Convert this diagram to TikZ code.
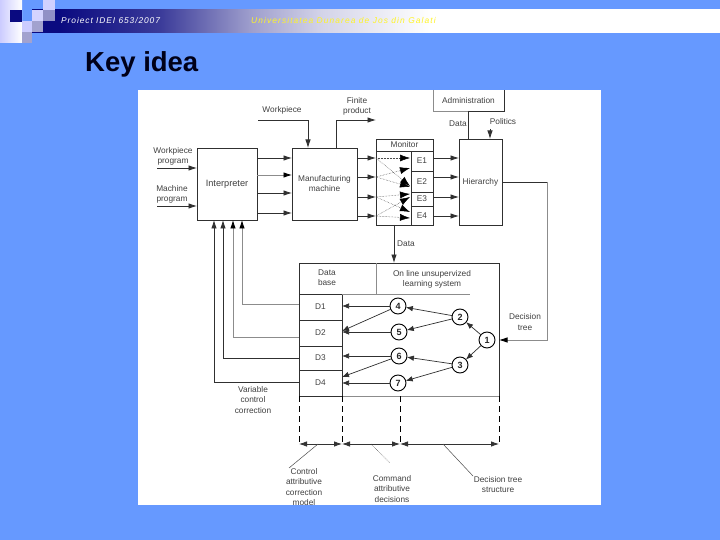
\documentclass[tikz,border=0pt]{standalone}
\usepackage{fontspec}
\setmainfont{Liberation Sans}
\newfontfamily\hdrfonta[LetterSpace=11,ItalicFont={Liberation Sans Italic}]{Liberation Sans}
\newfontfamily\hdrfontb[LetterSpace=13,ItalicFont={Liberation Sans Italic}]{Liberation Sans}
\usetikzlibrary{arrows.meta,calc}
\definecolor{slidebg}{HTML}{6699FF}
\definecolor{navy}{HTML}{0A0A80}
\definecolor{lc}{HTML}{303030}
\definecolor{lg}{HTML}{8C8C8C}
\pgfdeclarehorizontalshading{hbar}{100bp}{
  color(0bp)=(navy);
  color(27bp)=(navy);
  color(34.3bp)=(navy!80!white);
  color(40.8bp)=(navy!40!white);
  color(46bp)=(navy!18!white);
  color(54bp)=(white);
  color(100bp)=(white)}
\tikzset{
  box/.style={draw=lc,line width=0.8pt,fill=white,inner sep=0pt,outer sep=0pt,font=\fontsize{8.3}{10}\selectfont,align=center,text=black!75},
  lab/.style={inner sep=0pt,outer sep=0pt,font=\fontsize{8.3}{10.2}\selectfont,align=center,text=black!75},
  circ/.style={circle,draw=black,line width=0.9pt,fill=white,minimum size=16pt,inner sep=0pt,outer sep=0pt,font=\fontsize{9}{10}\bfseries\selectfont,text=black!85},
  arr/.style={draw=lc,line width=0.8pt,-{Latex[length=8.5pt,width=5.5pt]}},
  arrg/.style={draw=lg,line width=0.8pt,-{Latex[length=8.5pt,width=5.5pt,color=black]}},
  arrt/.style={draw=lc,line width=0.7pt,-{Latex[length=7pt,width=5.5pt]}},
  dotarr/.style={draw=black!70,line width=0.5pt,densely dotted,-{Latex[length=10pt,width=7pt,color=black]}},
  thinln/.style={draw=lc,line width=0.7pt},
  gline/.style={draw=lg,line width=0.8pt},
  dashln/.style={draw=black,line width=0.8pt,dash pattern=on 6pt off 4pt},
  dimln/.style={draw=black!80,line width=0.8pt,{Latex[length=8pt,width=5.5pt]}-{Latex[length=8pt,width=5.5pt]}},
  leader/.style={draw=black!70,line width=0.5pt}
}
\begin{document}
\begin{tikzpicture}[x=1pt,y=-1pt]
\useasboundingbox (0,0) rectangle (720,540);
\fill[slidebg] (0,0) rectangle (720,540);
% header bar
\shade[shading=hbar,shading angle=0] (32,10) rectangle (720,33);
% corner squares
\shade[left color=blue!20!white,right color=white] (0,0) rectangle (22,43);
\fill[navy] (10,10) rectangle (22,22);
\fill[blue!20!white] (22,21) rectangle (32,32);
\fill[blue!17!white] (32,10) rectangle (43,21);
\fill[blue!18!white] (43,0) rectangle (55,10);
\fill[navy!45!white] (43,10) rectangle (55,21);
\fill[navy!38!white] (32,21) rectangle (43,32);
\fill[navy] (43,21) rectangle (55,33);
\fill[navy!38!white] (22,32) rectangle (32,43);
\node[anchor=west,inner sep=0pt,text=white,font=\hdrfonta\itshape\fontsize{8.4}{10}\selectfont] (hleft) at (61,21) {Proiect IDEI 653/2007};
\node[anchor=west,inner sep=0pt,text=yellow!85!white,font=\hdrfontb\itshape\fontsize{8.4}{10}\selectfont] (hright) at (251,21) {Universitatea Dunarea de Jos din Galati};
\node[anchor=west,inner sep=0pt,text=black!90!blue,font=\bfseries\fontsize{27.5}{30}\selectfont] (title) at (85,64.5) {Key idea};
% white panel
\fill[white] (138,90) rectangle (601,505);
% boxes
\node[box,minimum width=60pt,minimum height=72pt,font=\fontsize{9.2}{11}\selectfont] (interp) at (227,184) {Interpreter};
\node[box,minimum width=65pt,minimum height=72pt] (manuf) at (324.5,184) {Manufacturing\\machine};
\node[box,minimum width=57pt,minimum height=86pt] (monitor) at (404.5,182) {};
\node[box,minimum width=57pt,minimum height=12pt] (monhead) at (404.5,145) {Monitor};
\node[box,minimum width=22pt,minimum height=20pt] (e1) at (422,161) {E1};
\node[box,minimum width=22pt,minimum height=21pt] (e2) at (422,181.5) {E2};
\node[box,minimum width=22pt,minimum height=14pt] (e3) at (422,199) {E3};
\node[box,minimum width=22pt,minimum height=19pt] (e4) at (422,215.5) {E4};
\node[box,minimum width=43pt,minimum height=86pt] (hier) at (480.5,182) {Hierarchy};
\node[box,draw=none,minimum width=71pt,minimum height=21pt] (admin) at (468.5,100.5) {Administration};
\node[box,minimum width=200pt,minimum height=133pt] (main) at (399,329.5) {};
\node[lab] (dblab) at (327,278) {Data\\base};
\node[lab] (olhead) at (432,279) {On line unsupervized\\learning system};
\node[box,minimum width=43pt,minimum height=26pt] (d1) at (320.5,307) {D1};
\node[box,minimum width=43pt,minimum height=26pt] (d2) at (320.5,333) {D2};
\node[box,minimum width=43pt,minimum height=24pt] (d3) at (320.5,358) {D3};
\node[box,minimum width=43pt,minimum height=26pt] (d4) at (320.5,383) {D4};
% administration frame (open at top)
\coordinate (adtl) at (433,90);
\coordinate (adtr) at (504,90);
\draw[gline] (adtl) -- (admin.south west) -- (admin.south);
\draw[thinln] (admin.south) -- (admin.south east) -- (adtr);
% header separators
\draw[gline] (d1.north east) -- (470,294);
\draw[gline] (376,263) -- (376,294);
\draw[gline] (d4.south east) -- (main.south east);
% circles
\node[circ] (c4) at (398,306) {4};
\node[circ] (c5) at (399,332) {5};
\node[circ] (c6) at (399,356) {6};
\node[circ] (c7) at (398,383) {7};
\node[circ] (c2) at (460,317) {2};
\node[circ] (c3) at (460,365) {3};
\node[circ] (c1) at (487,340) {1};
% tree arrows
\draw[arrt] (c1) -- (c2);
\draw[arrt] (c1) -- (c3);
\draw[arrt] (c2) -- (c4);
\draw[arrt] (c2) -- (c5);
\draw[arrt] (c3) -- (c6);
\draw[arrt] (c3) -- (c7);
\draw[arrt] (c4) -- (d1.east |- c4);
\draw[arrt] (c4) -- (342,331);
\draw[arrt] (c5) -- (d2.east |- c5);
\draw[arrt] (c6) -- (d3.east |- c6);
\draw[arrt] (c6) -- (342,377);
\draw[arrt] (c7) -- (d4.east |- c7);
% inputs
\coordinate (wpin) at (157,168);
\coordinate (mpin) at (157,206);
\draw[arr] (wpin) -- (interp.west |- wpin);
\draw[arr] (mpin) -- (interp.west |- mpin);
\node[lab] (wplab) at (173,156.5) {Workpiece\\program};
\node[lab] (mplab) at (172,194) {Machine\\program};
% interp -> manuf
\draw[arr] (interp.east |- 0,158) -- (manuf.west |- 0,158);
\draw[arrg] (interp.east |- 0,175) -- (manuf.west |- 0,175);
\draw[arr] (interp.east |- 0,193) -- (manuf.west |- 0,193);
\draw[arr] (interp.east |- 0,213) -- (manuf.west |- 0,213);
% workpiece / finite
\coordinate (wkstart) at (258,120);
\coordinate (fpend) at (376,120);
\draw[arr] (wkstart) -- (308,120) -- (manuf.north -| 308,0);
\draw[arr] (manuf.north -| 336,0) -- (336,120) -- (fpend);
\node[lab] (wklab) at (282,110) {Workpiece};
\node[lab] (fplab) at (357,106) {Finite\\product};
% manuf -> monitor
\draw[arr] (manuf.east |- 0,158) -- (monitor.west |- 0,158);
\draw[arr] (manuf.east |- 0,177) -- (monitor.west |- 0,177);
\draw[arr] (manuf.east |- 0,197) -- (monitor.west |- 0,197);
\draw[arr] (manuf.east |- 0,216) -- (monitor.west |- 0,216);
% monitor internal
\coordinate (m1) at (376,158);
\coordinate (m2) at (376,177);
\coordinate (m3) at (376,197);
\coordinate (m4) at (376,216);
\draw[dotarr] (m1) -- (410,158);
\draw[dotarr] (m1) -- (410,186);
\draw[dotarr] (m2) -- (410,168);
\draw[dotarr] (m2) -- (410,187);
\draw[dotarr] (m3) -- (410,194);
\draw[dotarr] (m3) -- (410,212);
\draw[dotarr] (m4) -- (410,197);
\draw[dotarr] (m4) -- (410,218);
% monitor -> hierarchy
\draw[arr] (e1.east |- 0,158) -- (hier.west |- 0,158);
\draw[arr] (e2.east |- 0,177) -- (hier.west |- 0,177);
\draw[arr] (e3.east |- 0,197) -- (hier.west |- 0,197);
\draw[arr] (e4.east |- 0,216) -- (hier.west |- 0,216);
% admin/politics
\draw[thinln] (admin.south -| 468,0) -- (hier.north -| 468,0);
\node[lab] (datalab1) at (458,124) {Data};
\node[lab] (pollab) at (503,122) {Politics};
\coordinate (polst) at (490,129);
\draw[arr] (polst) -- (hier.north -| polst);
% data monitor -> main
\draw[arr] (monitor.south -| 394,0) -- (main.north -| 394,0);
\node[lab] (datalab2) at (406,244) {Data};
% hierarchy -> decision tree
\draw[thinln] (hier.east) -- (547,182);
\draw[arrg] (547,182) -- (547,340) -- (main.east |- 547,340);
\node[lab] (dtlab) at (525,322) {Decision\\tree};
% feedback
\draw[arrg] (d1.west |- 0,304) -- (242,304) -- (interp.south -| 242,0);
\draw[arrg] (d2.west |- 0,337) -- (233,337) -- (interp.south -| 233,0);
\draw[arr] (d3.west |- 0,358) -- (223,358) -- (interp.south -| 223,0);
\draw[arr] (d4.west |- 0,382) -- (214,382) -- (interp.south -| 214,0);
\node[lab] (varlab) at (253,400) {Variable\\control\\correction};
% dashed
\coordinate (b1) at (299,444);
\coordinate (b2) at (342,444);
\coordinate (b3) at (400,444);
\coordinate (b4) at (499,444);
\draw[dashln] (main.south west) -- (b1);
\draw[dashln] (d4.south east) -- (b2);
\draw[dashln] (main.south -| b3) -- (b3);
\draw[dashln] (main.south east) -- (b4);
\draw[dimln] (b1) -- (b2);
\draw[dimln] (b2) -- (b3);
\draw[dimln] (b3) -- (b4);
% labels below
\node[lab] (cam) at (304,487) {Control\\attributive\\correction\\model};
\node[lab] (cad) at (392,489) {Command\\attributive\\decisions};
\node[lab] (dts) at (498,484.5) {Decision tree\\structure};
\coordinate (l1) at (318,444);
\coordinate (l2) at (371,444);
\coordinate (l3) at (443,444);
\coordinate (l1e) at (289,468);
\coordinate (l2e) at (390,463);
\coordinate (l3e) at (473,476);
\draw[leader] (l1) -- (l1e);
\draw[leader,densely dotted] (l2) -- (l2e);
\draw[leader] (l3) -- (l3e);
\end{tikzpicture}
\end{document}
